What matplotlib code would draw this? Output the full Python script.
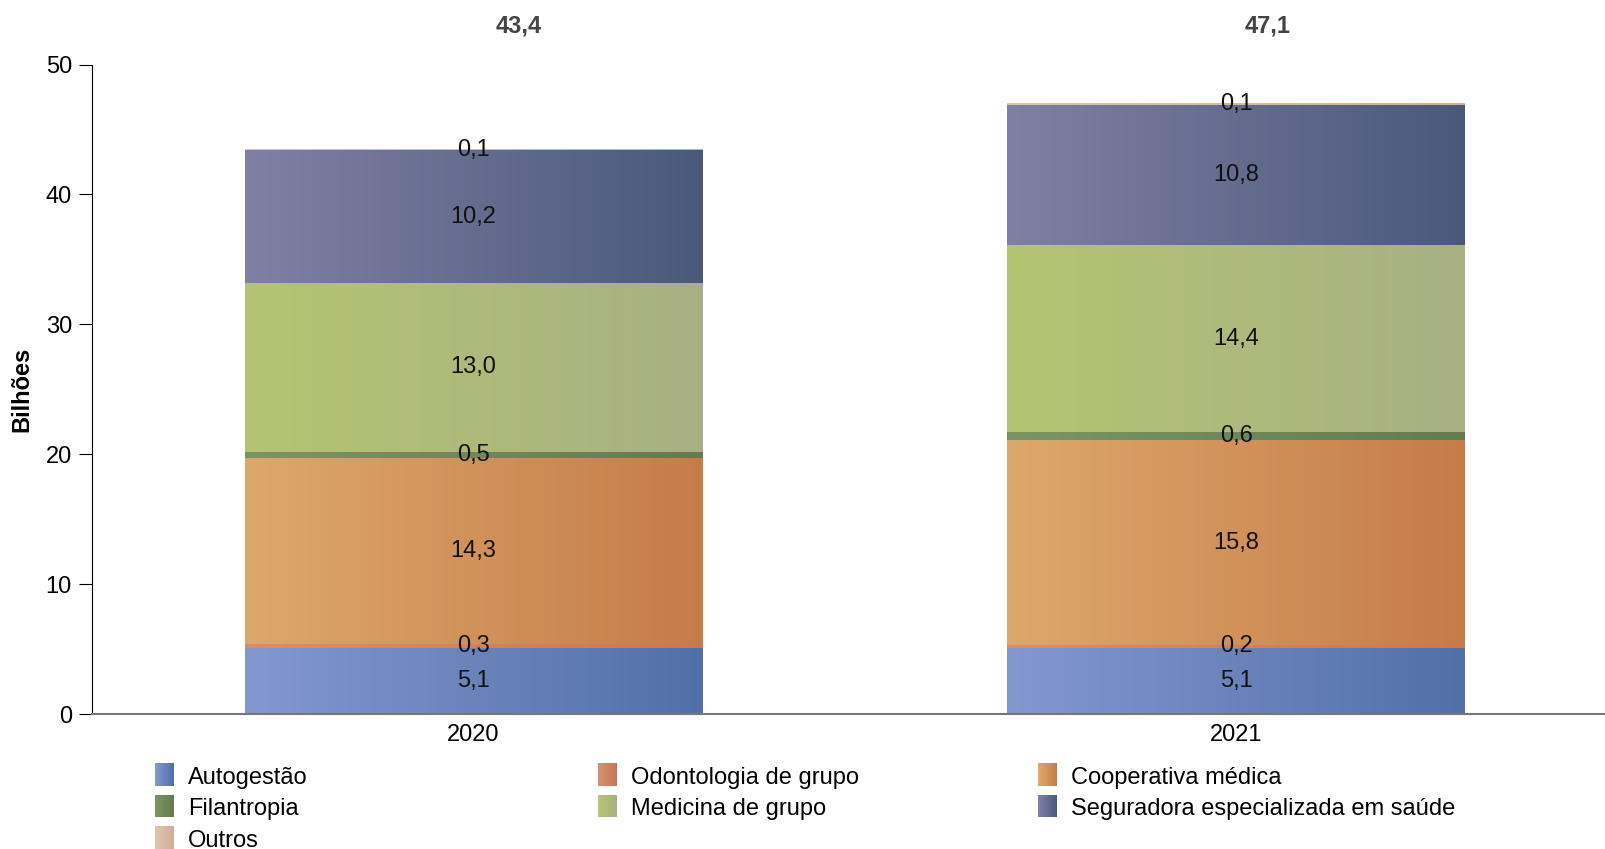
import numpy as np
import matplotlib.pyplot as plt
from matplotlib.colors import LinearSegmentedColormap
from matplotlib.patches import Patch, Rectangle
from matplotlib.legend_handler import HandlerBase

plt.rcParams['font.family'] = ['Liberation Sans', 'DejaVu Sans']

anos = ['2020', '2021']
totais = [43.4, 47.1]
categorias = ['Autogestão', 'Odontologia de grupo', 'Cooperativa médica',
              'Filantropia', 'Medicina de grupo', 'Seguradora especializada em saúde',
              'Outros']
autogestao = [5.1, 5.1]
odontologia = [0.3, 0.2]
cooperativa = [14.3, 15.8]
filantropia = [0.5, 0.6]
medicina = [13.0, 14.4]
seguradora = [10.2, 10.8]
outros = [0.1, 0.1]
series = [autogestao, odontologia, cooperativa, filantropia, medicina, seguradora, outros]

# gradiente horizontal (esquerda, direita) de cada categoria
cores = [('#8398ce', '#5170a8'),
         ('#d4906c', '#c8785a'),
         ('#dda86c', '#c67c48'),
         ('#7b9562', '#667a50'),
         ('#b5c472', '#a8b084'),
         ('#8080a4', '#4a597a'),
         ('#ddc3ae', '#d3ae98')]

FS = 17


class HandlerGradiente(HandlerBase):
    def create_artists(self, legend, orig, xd, yd, w, h, fontsize, trans):
        cmap = LinearSegmentedColormap.from_list('h', orig.cores)
        n = 12
        arts = []
        for k in range(n):
            r = Rectangle((xd + w * k / n, yd - 0.15 * h), w / n * 1.05, h * 1.3,
                          facecolor=cmap(k / (n - 1)), edgecolor='none', transform=trans)
            arts.append(r)
        return arts


fig = plt.figure(figsize=(16.06, 8.49), dpi=100)
ax = fig.add_axes([0.0573, 0.159, 1 - 0.0573, 0.924 - 0.159])

x = np.arange(len(anos))
largura = 0.60
grad = np.linspace(0, 1, 256).reshape(1, -1)
base = np.zeros(len(anos))
for vals, (c1, c2) in zip(series, cores):
    vals = np.array(vals)
    barras = ax.bar(x, vals, largura, bottom=base, color='none', linewidth=0)
    cmap = LinearSegmentedColormap.from_list('g', [c1, c2])
    for b in barras:
        x0, y0 = b.get_x(), b.get_y()
        im = ax.imshow(grad, cmap=cmap, aspect='auto', interpolation='bicubic',
                       extent=[x0, x0 + b.get_width(), y0, y0 + b.get_height()],
                       zorder=1)
        im.set_clip_path(b)
    for xi, bo, v in zip(x, base, vals):
        ax.text(xi, bo + v / 2, f'{v:.1f}'.replace('.', ','), ha='center',
                va='center', fontsize=FS, color='#111111', zorder=3)
    base = base + vals

desloc = [0.06, 0.042]
for xi, d, t in zip(x, desloc, totais):
    ax.text(xi + d, 53.0, f'{t:.1f}'.replace('.', ','), ha='center', va='center',
            fontsize=FS, fontweight='bold', color='#444444', clip_on=False)

ax.set_xlim(-0.5, 1.485)
ax.set_ylim(0, 50)
ax.set_yticks([0, 10, 20, 30, 40, 50])
ax.set_xticks(x)
ax.set_xticklabels(anos)
ax.tick_params(axis='x', length=0, pad=7, labelsize=FS)
ax.tick_params(axis='y', length=9.5, width=0.8, labelsize=FS, pad=5)
ax.spines['top'].set_visible(False)
ax.spines['right'].set_visible(False)
ax.spines['left'].set_linewidth(0.8)
ax.spines['bottom'].set_color('#777777')
ax.spines['bottom'].set_linewidth(1.5)
ax.set_ylabel('Bilhões', fontsize=FS, fontweight='bold', labelpad=9)

# legenda em 3 colunas, linha a linha
colunas_x = [0.0965, 0.3725, 0.6465]
for c in range(3):
    idx = list(range(c, len(categorias), 3))
    handles = []
    for i in idx:
        p = Patch(facecolor=cores[i][0])
        p.cores = cores[i]
        handles.append(p)
    labels = [categorias[i] for i in idx]
    fig.legend(handles, labels, loc='upper left', bbox_to_anchor=(colunas_x[c], 0.097),
               frameon=False, fontsize=FS, handlelength=0.8, handleheight=0.75,
               handletextpad=0.6, labelspacing=0.4, borderaxespad=0, borderpad=0,
               handler_map={Patch: HandlerGradiente()})

fig.savefig('out.png', dpi=100)
